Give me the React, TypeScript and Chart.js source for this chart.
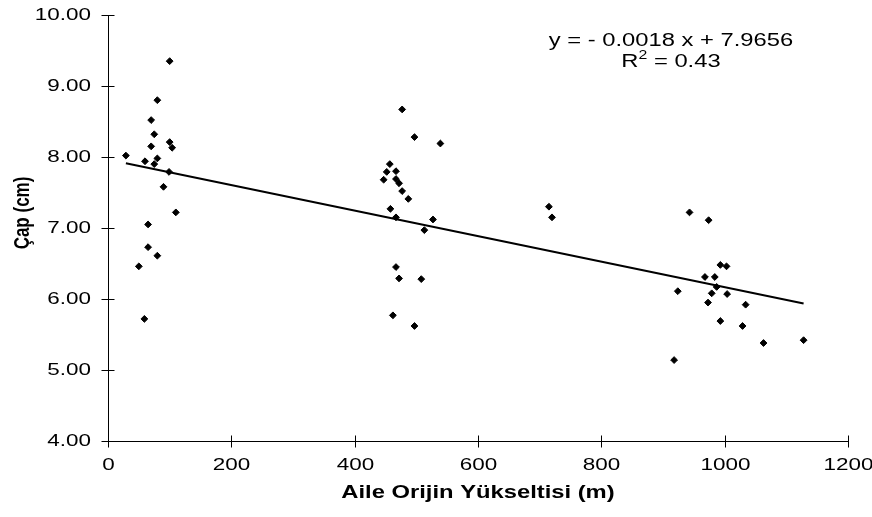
import React, { useEffect, useRef } from "react";
import { Chart, registerables } from "chart.js";

Chart.register(...registerables);

// Aile orijin yükseltisi (m)
const elevation: number[] = [
  29, 50, 59, 60, 65, 65, 70, 70, 75, 75, 80, 80, 80, 90, 99, 100, 100, 104, 110,
  447, 452, 457, 458, 462, 467, 467, 467, 467, 472, 472, 477, 477, 487, 497, 497, 508, 513, 527, 539,
  715, 720, 918, 924, 943, 968, 973, 974, 979, 984, 987, 993, 993, 1003, 1004, 1029, 1034, 1063, 1128,
];
// Çap (cm)
const diameter: number[] = [
  8.02, 6.46, 5.72, 7.94, 7.05, 6.73, 8.52, 8.15, 8.32, 7.9, 8.8, 7.98, 6.61, 7.58, 7.79, 9.35, 8.21, 8.13, 7.22,
  7.68, 7.79, 7.9, 7.27, 5.77, 7.8, 7.69, 7.15, 6.45, 7.63, 6.29, 7.52, 8.67, 7.41, 8.28, 5.62, 6.28, 6.97, 7.12, 8.19,
  7.3, 7.15, 5.14, 6.11, 7.22, 6.31, 5.95, 7.11, 6.08, 6.31, 6.17, 6.48, 5.69, 6.46, 6.07, 5.62, 5.92, 5.38, 5.42,
];

const slope = -0.0018;
const intercept = 7.9656;
const equationText = "y = - 0.0018 x + 7.9656";
const r2Value = "0.43";
const xTitle = "Aile Orijin Yükseltisi (m)";
const yTitle = "Çap (cm)";
const xTicks: number[] = [0, 200, 400, 600, 800, 1000, 1200];
const yTicks: number[] = [4, 5, 6, 7, 8, 9, 10];
const xTickLabels: string[] = ["0", "200", "400", "600", "800", "1000", "1200"];
const yTickLabels: string[] = ["4.00", "5.00", "6.00", "7.00", "8.00", "9.00", "10.00"];

const FONT = "'Liberation Sans', Arial, Helvetica, sans-serif";
const STRETCH = 1.32;

function stretchText(ctx: CanvasRenderingContext2D, text: string, x: number, y: number, align: CanvasTextAlign) {
  ctx.save();
  ctx.translate(x, y);
  ctx.scale(STRETCH, 1);
  ctx.textAlign = align;
  ctx.fillText(text, 0, 0);
  ctx.restore();
}

export default function App() {
  const ref = useRef<HTMLCanvasElement>(null);
  useEffect(() => {
    document.body.style.margin = "0";
    const canvas = ref.current;
    if (!canvas) return;
    const points = elevation.map((x, i) => ({ x, y: diameter[i] }));
    const xMin = Math.min(...elevation);
    const xMax = Math.max(...elevation);
    const trend = [
      { x: xMin, y: intercept + slope * xMin },
      { x: xMax, y: intercept + slope * xMax },
    ];

    const overlay = {
      id: "overlay",
      afterDraw(chart: any) {
        const { ctx, chartArea, scales } = chart;
        const xs = scales.x;
        const ys = scales.y;
        ctx.save();
        ctx.strokeStyle = "#000";
        ctx.fillStyle = "#000";
        ctx.lineWidth = 1;
        const ax = Math.round(chartArea.left) + 0.5;
        const ay = Math.round(chartArea.bottom) + 0.5;
        // tick marks crossing the axes + labels
        ctx.font = `17px ${FONT}`;
        ctx.textBaseline = "middle";
        yTicks.forEach((v, i) => {
          const py = Math.round(ys.getPixelForValue(v)) + 0.5;
          ctx.beginPath();
          ctx.moveTo(ax - 7, py);
          ctx.lineTo(ax + 6, py);
          ctx.stroke();
          stretchText(ctx, yTickLabels[i], 91, py, "right");
        });
        xTicks.forEach((v, i) => {
          const px = Math.round(xs.getPixelForValue(v)) + 0.5;
          ctx.beginPath();
          ctx.moveTo(px, ay - 6);
          ctx.lineTo(px, ay + 6);
          ctx.stroke();
          stretchText(ctx, xTickLabels[i], px, 465, "center");
        });
        // x title
        ctx.font = `bold 18px ${FONT}`;
        stretchText(ctx, xTitle, (chartArea.left + chartArea.right) / 2, 493, "center");
        // y title
        ctx.save();
        ctx.translate(23, 213);
        ctx.scale(STRETCH, 1);
        ctx.rotate(-Math.PI / 2);
        ctx.font = `bold 17px ${FONT}`;
        ctx.textAlign = "center";
        ctx.textBaseline = "middle";
        ctx.fillText(yTitle, 0, 0);
        ctx.restore();
        // equation
        ctx.textBaseline = "alphabetic";
        const cx = 671;
        ctx.font = `18px ${FONT}`;
        stretchText(ctx, equationText, cx, 46, "center");
        const r = "R";
        const rest = " = " + r2Value;
        const wR = ctx.measureText(r).width * STRETCH;
        const wRest = ctx.measureText(rest).width * STRETCH;
        ctx.font = `12px ${FONT}`;
        const wSup = ctx.measureText("2").width * STRETCH;
        const total = wR + wSup + wRest;
        let sx = cx - total / 2;
        ctx.font = `18px ${FONT}`;
        stretchText(ctx, r, sx, 67, "left");
        sx += wR;
        ctx.font = `12px ${FONT}`;
        stretchText(ctx, "2", sx, 59, "left");
        sx += wSup;
        ctx.font = `18px ${FONT}`;
        stretchText(ctx, rest, sx, 67, "left");
        ctx.restore();
      },
    };

    const chart = new Chart(canvas, {
      type: "scatter",
      data: {
        datasets: [
          {
            type: "line",
            data: trend,
            borderColor: "#000",
            borderWidth: 2,
            pointRadius: 0,
            fill: false,
            order: 2,
          } as any,
          {
            data: points,
            backgroundColor: "#000",
            borderColor: "#000",
            borderWidth: 1,
            pointStyle: "rectRot",
            pointRadius: 3.4,
            order: 1,
          },
        ],
      },
      options: {
        responsive: false,
        animation: false,
        layout: { padding: { top: 15, right: 24, left: 0, bottom: 0 } },
        plugins: { legend: { display: false }, tooltip: { enabled: false } },
        scales: {
          x: {
            type: "linear",
            min: 0,
            max: 1200,
            afterFit: (s: any) => {
              s.height = 76;
            },
            afterBuildTicks: (s: any) => {
              s.ticks = xTicks.map((v) => ({ value: v }));
            },
            grid: { display: false, drawTicks: false },
            border: { display: true, color: "#000", width: 1 },
            ticks: { display: false },
          },
          y: {
            type: "linear",
            min: 4,
            max: 10,
            afterFit: (s: any) => {
              s.width = 108;
            },
            afterBuildTicks: (s: any) => {
              s.ticks = yTicks.map((v) => ({ value: v }));
            },
            grid: { display: false, drawTicks: false },
            border: { display: true, color: "#000", width: 1 },
            ticks: { display: false },
          },
        },
      },
      plugins: [overlay],
    });
    return () => chart.destroy();
  }, []);

  return (
    <div style={{ width: 872, height: 517, background: "#fff" }}>
      <canvas ref={ref} width={872} height={517} style={{ display: "block" }} />
    </div>
  );
}
